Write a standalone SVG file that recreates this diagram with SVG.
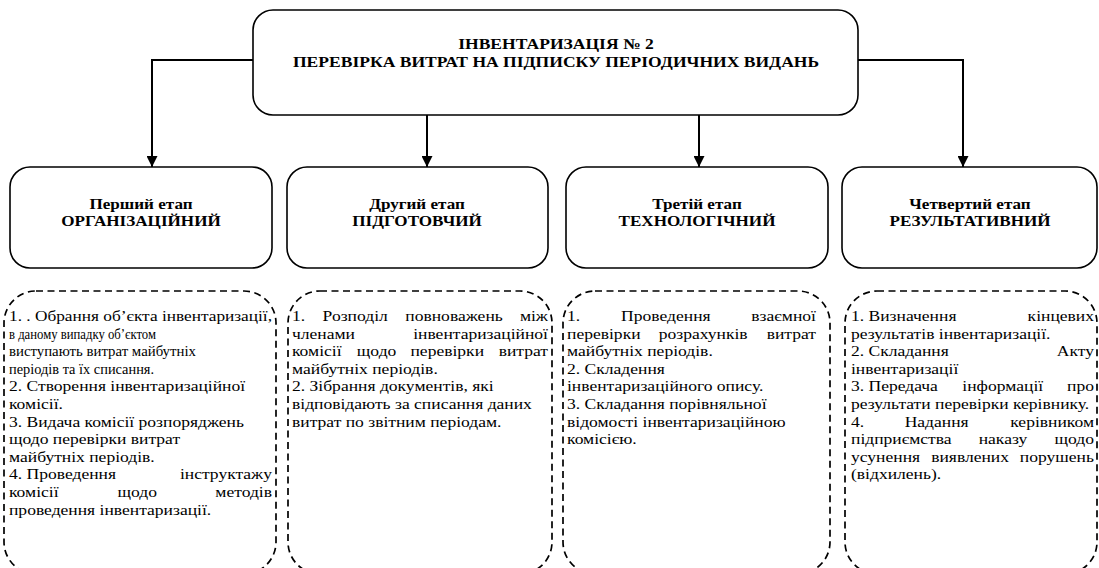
<svg xmlns="http://www.w3.org/2000/svg" width="1099" height="568" viewBox="0 0 1099 568">
<defs>
<style>
.solid{fill:#fff;stroke:#000;stroke-width:1.6}
.dash{fill:none;stroke:#000;stroke-width:1.7;stroke-dasharray:7 4.5}
.con{fill:none;stroke:#000;stroke-width:2;marker-end:url(#arr)}
.t{font-size:15px}
.h{font-size:15px;font-weight:bold;text-anchor:middle}
.m{text-anchor:middle}
.e{text-anchor:end}
</style>
<marker id="arr" viewBox="0 0 10 10" refX="10" refY="5" markerWidth="11" markerHeight="11" orient="auto" markerUnits="userSpaceOnUse">
<path d="M0,0 L10,5 L0,10 Z" fill="#000"/>
</marker>
</defs>
<rect width="1099" height="568" fill="#fff"/>

<g id="connectors">
<path class="con" d="M253,60 H152 V167"/>
<path class="con" d="M427,115 V167"/>
<path class="con" d="M699,115 V167"/>
<path class="con" d="M858,60 H963 V167"/>
</g>

<g id="root">
<rect class="solid" x="253" y="10" width="605" height="105" rx="20"/>
<g transform="matrix(1.17 0 0 1 -94.52 0)">
<text class="h" style="font-family:'Liberation Serif',serif" x="556" y="49">ІНВЕНТАРИЗАЦІЯ № 2</text>
<text class="h" style="font-family:'Liberation Serif',serif" x="556" y="67">ПЕРЕВІРКА ВИТРАТ НА ПІДПИСКУ ПЕРІОДИЧНИХ ВИДАНЬ</text>
</g>
</g>

<g id="stage1">
<rect class="solid" x="10" y="167" width="262" height="101" rx="20"/>
<g transform="matrix(1.14 0 0 1 -19.74 0)">
<text class="h" style="font-family:'Liberation Serif',serif" x="141" y="209">Перший етап</text>
<text class="h" style="font-family:'Liberation Serif',serif" x="141" y="226">ОРГАНІЗАЦІЙНИЙ</text>
</g>
</g>
<g id="stage2">
<rect class="solid" x="287" y="167" width="261" height="101" rx="20"/>
<g transform="matrix(1.14 0 0 1 -58.38 0)">
<text class="h" style="font-family:'Liberation Serif',serif" x="417" y="209">Другий етап</text>
<text class="h" style="font-family:'Liberation Serif',serif" x="417" y="226">ПІДГОТОВЧИЙ</text>
</g>
</g>
<g id="stage3">
<rect class="solid" x="566" y="167" width="262" height="101" rx="20"/>
<g transform="matrix(1.14 0 0 1 -97.58 0)">
<text class="h" style="font-family:'Liberation Serif',serif" x="697" y="209">Третій етап</text>
<text class="h" style="font-family:'Liberation Serif',serif" x="697" y="226">ТЕХНОЛОГІЧНИЙ</text>
</g>
</g>
<g id="stage4">
<rect class="solid" x="842" y="167" width="255" height="101" rx="20"/>
<g transform="matrix(1.14 0 0 1 -135.8 0)">
<text class="h" style="font-family:'Liberation Serif',serif" x="970" y="209">Четвертий етап</text>
<text class="h" style="font-family:'Liberation Serif',serif" x="970" y="226">РЕЗУЛЬТАТИВНИЙ</text>
</g>
</g>

<g id="list1">
<rect class="dash" x="4" y="291" width="272" height="283" rx="32"/>
<g transform="matrix(1.17 0 0 1 -1.53 0)">
<text class="t" style="font-family:'Liberation Serif',serif" x="9" y="321" textLength="224.8" lengthAdjust="spacingAndGlyphs">1. . Обрання об’єкта інвентаризації,</text>
<text class="t" style="font-family:'Liberation Serif',serif" x="9" y="338.6" textLength="125.6" lengthAdjust="spacingAndGlyphs">в даному випадку об’єктом</text>
<text class="t" style="font-family:'Liberation Serif',serif" x="9" y="356.2" textLength="159.8" lengthAdjust="spacingAndGlyphs">виступають витрат майбутніх</text>
<text class="t" style="font-family:'Liberation Serif',serif" x="9" y="373.8" textLength="124" lengthAdjust="spacingAndGlyphs">періодів та їх списання.</text>
<text class="t" style="font-family:'Liberation Serif',serif" x="9" y="391.4">2. Створення інвентаризаційної</text>
<text class="t" style="font-family:'Liberation Serif',serif" x="9" y="409">комісії.</text>
<text class="t" style="font-family:'Liberation Serif',serif" x="9" y="426.6">3. Видача комісії розпоряджень</text>
<text class="t" style="font-family:'Liberation Serif',serif" x="9" y="444.2">щодо перевірки витрат</text>
<text class="t" style="font-family:'Liberation Serif',serif" x="9" y="461.8">майбутніх періодів.</text>
<text class="t" style="font-family:'Liberation Serif',serif" x="9" y="479.4">4. Проведення</text>
<text class="t e" style="font-family:'Liberation Serif',serif" x="233.8" y="479.4">інструктажу</text>
<text class="t" style="font-family:'Liberation Serif',serif" x="9" y="497">комісії</text>
<text class="t m" style="font-family:'Liberation Serif',serif" x="118.6" y="497">щодо</text>
<text class="t e" style="font-family:'Liberation Serif',serif" x="233.8" y="497">методів</text>
<text class="t" style="font-family:'Liberation Serif',serif" x="9" y="514.6">проведення інвентаризації.</text>
</g>
</g>

<g id="list2">
<rect class="dash" x="288" y="291" width="264" height="283" rx="32"/>
<g transform="matrix(1.17 0 0 1 -49.64 0)">
<text class="t" style="font-family:'Liberation Serif',serif" x="292" y="321">1.</text>
<text class="t m" style="font-family:'Liberation Serif',serif" x="346" y="321">Розподіл</text>
<text class="t m" style="font-family:'Liberation Serif',serif" x="430.5" y="321">повноважень</text>
<text class="t e" style="font-family:'Liberation Serif',serif" x="510.8" y="321">між</text>
<text class="t" style="font-family:'Liberation Serif',serif" x="292" y="338.6">членами</text>
<text class="t e" style="font-family:'Liberation Serif',serif" x="510.8" y="338.6">інвентаризаційної</text>
<text class="t" style="font-family:'Liberation Serif',serif" x="292" y="356.2">комісії</text>
<text class="t m" style="font-family:'Liberation Serif',serif" x="364.3" y="356.2">щодо</text>
<text class="t m" style="font-family:'Liberation Serif',serif" x="424.7" y="356.2">перевірки</text>
<text class="t e" style="font-family:'Liberation Serif',serif" x="510.8" y="356.2">витрат</text>
<text class="t" style="font-family:'Liberation Serif',serif" x="292" y="373.8">майбутніх періодів.</text>
<text class="t" style="font-family:'Liberation Serif',serif" x="292" y="391.4">2. Зібрання документів, які</text>
<text class="t" style="font-family:'Liberation Serif',serif" x="292" y="409">відповідають за списання даних</text>
<text class="t" style="font-family:'Liberation Serif',serif" x="292" y="426.6">витрат по звітним періодам.</text>
</g>
</g>

<g id="list3">
<rect class="dash" x="563" y="291" width="267" height="283" rx="32"/>
<g transform="matrix(1.17 0 0 1 -96.39 0)">
<text class="t" style="font-family:'Liberation Serif',serif" x="567" y="321">1.</text>
<text class="t m" style="font-family:'Liberation Serif',serif" x="651.5" y="321">Проведення</text>
<text class="t e" style="font-family:'Liberation Serif',serif" x="779.8" y="321">взаємної</text>
<text class="t" style="font-family:'Liberation Serif',serif" x="567" y="338.6">перевірки</text>
<text class="t m" style="font-family:'Liberation Serif',serif" x="683.4" y="338.6">розрахунків</text>
<text class="t e" style="font-family:'Liberation Serif',serif" x="779.8" y="338.6">витрат</text>
<text class="t" style="font-family:'Liberation Serif',serif" x="567" y="356.2">майбутніх періодів.</text>
<text class="t" style="font-family:'Liberation Serif',serif" x="567" y="373.8">2. Складення</text>
<text class="t" style="font-family:'Liberation Serif',serif" x="567" y="391.4">інвентаризаційного опису.</text>
<text class="t" style="font-family:'Liberation Serif',serif" x="567" y="409">3. Складання порівняльної</text>
<text class="t" style="font-family:'Liberation Serif',serif" x="567" y="426.6">відомості інвентаризаційною</text>
<text class="t" style="font-family:'Liberation Serif',serif" x="567" y="444.2">комісією.</text>
</g>
</g>

<g id="list4">
<rect class="dash" x="845" y="291" width="252" height="283" rx="32"/>
<g transform="matrix(1.17 0 0 1 -144.67 0)">
<text class="t" style="font-family:'Liberation Serif',serif" x="851" y="321">1. Визначення</text>
<text class="t e" style="font-family:'Liberation Serif',serif" x="1058.7" y="321">кінцевих</text>
<text class="t" style="font-family:'Liberation Serif',serif" x="851" y="338.6">результатів інвентаризації.</text>
<text class="t" style="font-family:'Liberation Serif',serif" x="851" y="356.2">2. Складання</text>
<text class="t e" style="font-family:'Liberation Serif',serif" x="1058.7" y="356.2">Акту</text>
<text class="t" style="font-family:'Liberation Serif',serif" x="851" y="373.8">інвентаризації</text>
<text class="t" style="font-family:'Liberation Serif',serif" x="851" y="391.4">3. Передача</text>
<text class="t m" style="font-family:'Liberation Serif',serif" x="980.7" y="391.4">інформації</text>
<text class="t e" style="font-family:'Liberation Serif',serif" x="1058.7" y="391.4">про</text>
<text class="t" style="font-family:'Liberation Serif',serif" x="851" y="409">результати перевірки керівнику.</text>
<text class="t" style="font-family:'Liberation Serif',serif" x="851" y="426.6">4.</text>
<text class="t m" style="font-family:'Liberation Serif',serif" x="924.2" y="426.6">Надання</text>
<text class="t e" style="font-family:'Liberation Serif',serif" x="1058.7" y="426.6">керівником</text>
<text class="t" style="font-family:'Liberation Serif',serif" x="851" y="444.2">підприємства</text>
<text class="t m" style="font-family:'Liberation Serif',serif" x="980.9" y="444.2">наказу</text>
<text class="t e" style="font-family:'Liberation Serif',serif" x="1058.7" y="444.2">щодо</text>
<text class="t" style="font-family:'Liberation Serif',serif" x="851" y="461.8">усунення</text>
<text class="t m" style="font-family:'Liberation Serif',serif" x="952.8" y="461.8">виявлених</text>
<text class="t e" style="font-family:'Liberation Serif',serif" x="1058.7" y="461.8">порушень</text>
<text class="t" style="font-family:'Liberation Serif',serif" x="851" y="479.4">(відхилень).</text>
</g>
</g>
</svg>
